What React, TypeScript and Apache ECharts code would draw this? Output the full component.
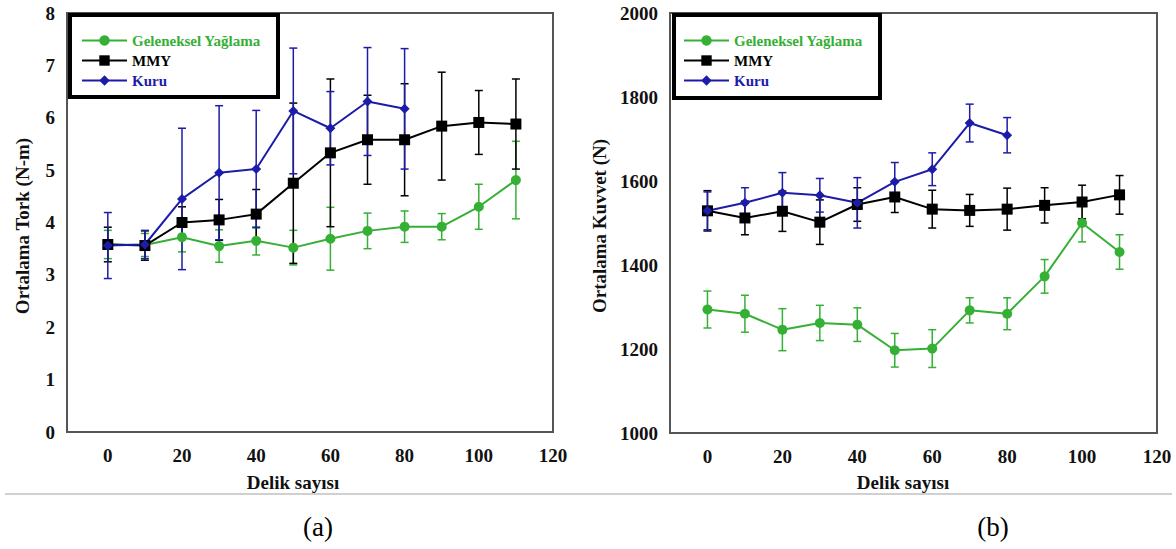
import React, { useEffect, useRef } from "react";
import * as echarts from "echarts";

// ---------- data ----------
const holes = [0, 10, 20, 30, 40, 50, 60, 70, 80, 90, 100, 110];
const holesKuru = [0, 10, 20, 30, 40, 50, 60, 70, 80];
const xTickValues = [0, 20, 40, 60, 80, 100, 120];

const seriesNames = ["Geleneksel Yağlama", "MMY", "Kuru"];

// (a) Ortalama Tork (N-m)
const torkGeleneksel = [3.58, 3.57, 3.72, 3.55, 3.65, 3.52, 3.69, 3.84, 3.92, 3.92, 4.3, 4.81];
const torkGelenekselErr = [0.27, 0.22, 0.28, 0.31, 0.27, 0.33, 0.6, 0.34, 0.3, 0.25, 0.43, 0.74];
const torkMMY = [3.58, 3.56, 4.0, 4.05, 4.16, 4.75, 5.33, 5.58, 5.58, 5.84, 5.91, 5.88];
const torkMMYErr = [0.33, 0.28, 0.3, 0.39, 0.47, 1.53, 1.41, 0.85, 1.07, 1.03, 0.61, 0.86];
const torkKuru = [3.56, 3.58, 4.45, 4.95, 5.02, 6.13, 5.8, 6.31, 6.17];
const torkKuruErr = [0.63, 0.27, 1.35, 1.28, 1.12, 1.2, 0.7, 1.03, 1.15];

// (b) Ortalama Kuvvet (N)
const kuvvetGeleneksel = [1294, 1284, 1246, 1262, 1258, 1197, 1201, 1292, 1284, 1373, 1500, 1431];
const kuvvetGelenekselErr = [44, 44, 50, 42, 40, 40, 45, 30, 38, 40, 45, 41];
const kuvvetMMY = [1529, 1512, 1528, 1502, 1544, 1562, 1533, 1530, 1533, 1542, 1550, 1567];
const kuvvetMMYErr = [48, 40, 48, 53, 40, 37, 45, 38, 50, 42, 40, 46];
const kuvvetKuru = [1529, 1548, 1572, 1566, 1548, 1598, 1628, 1738, 1709];
const kuvvetKuruErr = [45, 36, 48, 40, 60, 46, 39, 45, 42];

// ---------- styles ----------
const GREEN = "#35b035";
const BLACK = "#000000";
const BLUE = "#1c1ca8";
const FONT = "'Liberation Serif', 'Times New Roman', serif";

const zip2 = (xs: number[], ys: number[]) => ys.map((y, i) => [xs[i], y]);
const zip3 = (xs: number[], ys: number[], es: number[]) => ys.map((y, i) => [xs[i], y, es[i]]);

function errRender(color: string) {
  return (params: any, api: any) => {
    const x = api.value(0);
    const y = api.value(1);
    const e = api.value(2);
    const top = api.coord([x, y + e]);
    const bot = api.coord([x, y - e]);
    const w = 4;
    const style = { stroke: color, lineWidth: 1.5 };
    return {
      type: "group",
      children: [
        { type: "line", shape: { x1: top[0], y1: top[1], x2: bot[0], y2: bot[1] }, style },
        { type: "line", shape: { x1: top[0] - w, y1: top[1], x2: top[0] + w, y2: top[1] }, style },
        { type: "line", shape: { x1: bot[0] - w, y1: bot[1], x2: bot[0] + w, y2: bot[1] }, style },
      ],
    };
  };
}

function lineSeries(name: string, idx: number, data: number[][], color: string, symbol: string, size: number) {
  return {
    name,
    type: "line",
    xAxisIndex: idx,
    yAxisIndex: idx,
    data,
    symbol,
    symbolSize: size,
    lineStyle: { color, width: 2 },
    itemStyle: { color },
    z: 4,
  };
}

function errSeries(idx: number, data: number[][], color: string) {
  return {
    type: "custom",
    xAxisIndex: idx,
    yAxisIndex: idx,
    data,
    encode: { x: 0, y: [1, 2] },
    renderItem: errRender(color),
    z: 3,
    silent: true,
  };
}

const tickLabel = { fontFamily: FONT, fontWeight: "bold", fontSize: 19, color: "#111" };
const legendText = { fontFamily: FONT, fontWeight: "bold", fontSize: 15 };

function legendFor(left: number) {
  return {
    left,
    top: 33,
    orient: "vertical",
    itemWidth: 45,
    itemHeight: 13,
    itemGap: 5,
    selectedMode: false,
    padding: 0,
    z: 20,
    textStyle: { ...legendText },
    data: [
      { name: seriesNames[0], textStyle: { ...legendText, color: GREEN } },
      { name: seriesNames[1], textStyle: { ...legendText, color: BLACK } },
      { name: seriesNames[2], textStyle: { ...legendText, color: BLUE } },
    ],
  };
}

export default function App() {
  const ref = useRef<HTMLDivElement>(null);
  useEffect(() => {
    if (!ref.current) return;
    const chart = echarts.init(ref.current, undefined, { renderer: "svg" });
    const option: any = {
      animation: false,
      backgroundColor: "#fff",
      textStyle: { fontFamily: FONT },
      grid: [
        { left: 67, top: 13, width: 486, height: 419, show: true, borderColor: "#555", borderWidth: 2, backgroundColor: "#fff" },
        { left: 670, top: 13, width: 487, height: 420, show: true, borderColor: "#555", borderWidth: 2, backgroundColor: "#fff" },
      ],
      xAxis: [
        {
          gridIndex: 0, type: "value", min: -11, max: 120,
          axisLine: { show: false }, axisTick: { show: false }, splitLine: { show: false },
          axisLabel: { ...tickLabel, margin: 14, customValues: xTickValues, formatter: (v: number) => String(v) },
        },
        {
          gridIndex: 1, type: "value", min: -10, max: 120,
          axisLine: { show: false }, axisTick: { show: false }, splitLine: { show: false },
          axisLabel: { ...tickLabel, margin: 14, customValues: xTickValues, formatter: (v: number) => String(v) },
        },
      ],
      yAxis: [
        {
          gridIndex: 0, type: "value", min: 0, max: 8, interval: 1,
          axisLine: { show: false }, axisTick: { show: false }, splitLine: { show: false },
          axisLabel: { ...tickLabel, margin: 12, formatter: (v: number) => String(v) },
        },
        {
          gridIndex: 1, type: "value", min: 1000, max: 2000, interval: 200,
          axisLine: { show: false }, axisTick: { show: false }, splitLine: { show: false },
          axisLabel: { ...tickLabel, margin: 12, formatter: (v: number) => String(v) },
        },
      ],
      legend: [legendFor(81), legendFor(683)],
      graphic: [
        { type: "rect", z: 6, shape: { x: 70, y: 15, width: 208, height: 82 }, style: { fill: "#fff", stroke: "#000", lineWidth: 4 } },
        { type: "rect", z: 6, shape: { x: 674, y: 15, width: 206, height: 83 }, style: { fill: "#fff", stroke: "#000", lineWidth: 4 } },
        {
          type: "text", x: 22, y: 226, rotation: Math.PI / 2,
          style: { text: "Ortalama Tork (N-m)", font: `bold 19px ${FONT}`, fill: "#111", align: "center", verticalAlign: "middle" },
        },
        {
          type: "text", x: 599, y: 226, rotation: Math.PI / 2,
          style: { text: "Ortalama Kuvvet (N)", font: `bold 19px ${FONT}`, fill: "#111", align: "center", verticalAlign: "middle" },
        },
        {
          type: "text", x: 293, y: 482,
          style: { text: "Delik sayısı", font: `bold 19px ${FONT}`, fill: "#111", align: "center", verticalAlign: "middle" },
        },
        {
          type: "text", x: 903, y: 482,
          style: { text: "Delik sayısı", font: `bold 19px ${FONT}`, fill: "#111", align: "center", verticalAlign: "middle" },
        },
        { type: "line", shape: { x1: 5, y1: 494, x2: 1172, y2: 494 }, style: { stroke: "#d0d0d0", lineWidth: 2 } },
        {
          type: "text", x: 318, y: 527,
          style: { text: "(a)", font: `27px ${FONT}`, fill: "#000", align: "center", verticalAlign: "middle" },
        },
        {
          type: "text", x: 993, y: 527,
          style: { text: "(b)", font: `27px ${FONT}`, fill: "#000", align: "center", verticalAlign: "middle" },
        },
      ],
      series: [
        errSeries(0, zip3(holes, torkGeleneksel, torkGelenekselErr), GREEN),
        errSeries(0, zip3(holes, torkMMY, torkMMYErr), BLACK),
        errSeries(0, zip3(holesKuru, torkKuru, torkKuruErr), BLUE),
        lineSeries(seriesNames[0], 0, zip2(holes, torkGeleneksel), GREEN, "circle", 10),
        lineSeries(seriesNames[1], 0, zip2(holes, torkMMY), BLACK, "rect", 11),
        lineSeries(seriesNames[2], 0, zip2(holesKuru, torkKuru), BLUE, "diamond", 10),
        errSeries(1, zip3(holes, kuvvetGeleneksel, kuvvetGelenekselErr), GREEN),
        errSeries(1, zip3(holes, kuvvetMMY, kuvvetMMYErr), BLACK),
        errSeries(1, zip3(holesKuru, kuvvetKuru, kuvvetKuruErr), BLUE),
        lineSeries(seriesNames[0], 1, zip2(holes, kuvvetGeleneksel), GREEN, "circle", 10),
        lineSeries(seriesNames[1], 1, zip2(holes, kuvvetMMY), BLACK, "rect", 11),
        lineSeries(seriesNames[2], 1, zip2(holesKuru, kuvvetKuru), BLUE, "diamond", 10),
      ],
    };
    chart.setOption(option);
    return () => chart.dispose();
  }, []);
  return (
    <div
      ref={ref}
      style={{ position: "fixed", left: 0, top: 0, width: 1176, height: 549, background: "#fff" }}
    />
  );
}
